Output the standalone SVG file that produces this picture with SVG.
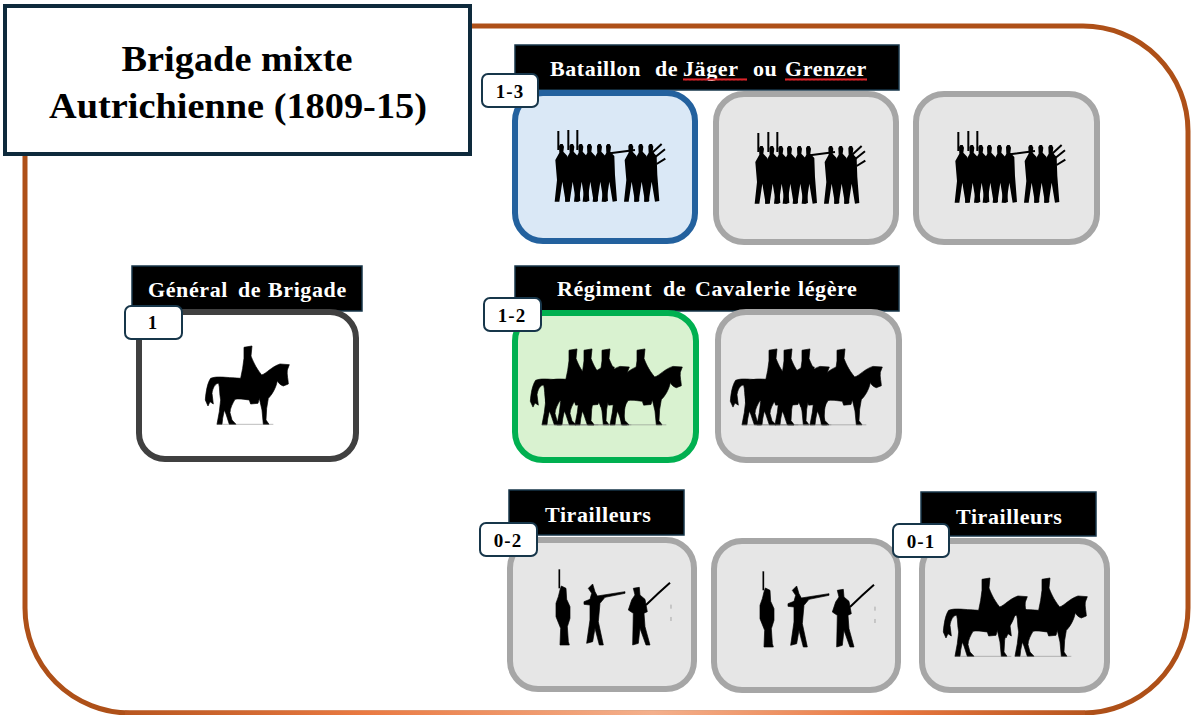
<svg xmlns="http://www.w3.org/2000/svg" width="1192" height="715" viewBox="0 0 1192 715">
<style>
.card{stroke-width:6}
.gray{fill:#e6e6e6;stroke:#a6a6a6}
.blue{fill:#dae8f6;stroke:#23619e}
.green{fill:#d9f2d0;stroke:#00b050}
.white{fill:#fff;stroke:#404040}
.hdr{fill:#000;stroke:#17364a;stroke-width:1.5}
.badge{fill:#fff;stroke:#17364a;stroke-width:2}
.sil{fill:#000;stroke:#000;stroke-width:2;stroke-linejoin:round}
text{font-family:"Liberation Serif","DejaVu Serif",serif;font-weight:bold}
.h{fill:#fff;font-size:22px;letter-spacing:.6px}
.b{fill:#000;font-size:19px;text-anchor:middle;letter-spacing:1px}
.t{fill:#000;font-size:36px;text-anchor:middle}
</style>
<defs>
<linearGradient id="bottomEdge" gradientUnits="userSpaceOnUse" x1="125" y1="0" x2="1085" y2="0">
<stop offset="0" stop-color="#b8561f"/><stop offset=".25" stop-color="#ea7a42"/><stop offset=".55" stop-color="#f4b08c"/><stop offset=".8" stop-color="#e9773f"/><stop offset="1" stop-color="#b8561f"/>
</linearGradient>
<pattern id="squiggle" patternUnits="userSpaceOnUse" width="4" height="3">
<path d="M0 2.4 L1 .6 L2 2.4 L3 .6 L4 2.4" fill="none" stroke="#e0242a" stroke-width="1.1"/>
</pattern>
<g id="horse">
<path class="sil" d="M372 262 L396 258 L393 288 C398 300 405 320 425 345 C440 340 455 320 480 312 L508 314 L502 330 C500 345 505 360 505 372 L490 378 C480 375 475 368 472 362 C468 385 455 405 445 415 L440 445 L438 480 L447 493 L430 493 L426 450 L418 415 L414 430 L392 432 L388 420 C370 418 355 415 345 418 C338 430 330 445 330 458 L336 480 L348 493 L328 493 L318 462 L313 450 L308 475 L306 493 L291 493 L298 455 L302 420 C298 400 300 385 296 370 C285 370 278 385 276 400 L280 432 L270 425 L264 438 L256 420 C258 395 262 370 272 355 C290 348 310 352 362 355 L368 325 L372 295 Z"/>
<path d="M290 493 H460" stroke="#777" stroke-width="1.5" fill="none"/>
</g>
<path id="sol" d="M-7 78 L-3 72 L4 72 L8 80 L6 95 L18 108 L20 165 L26 243 L13 245 L3 185 L-6 245 L-20 245 L-13 180 L-18 120 L-6 98 Z" fill="#000"/>
<g id="inf">
<use href="#sol" x="64"/><use href="#sol" x="95"/><use href="#sol" x="122"/><use href="#sol" x="148"/><use href="#sol" x="178"/><use href="#sol" x="205"/><use href="#sol" x="272"/><use href="#sol" x="302"/><use href="#sol" x="332"/>
<path d="M55 33V90M85 30V90M112 30V90M210 100L285 90M335 100L365 72M345 112L375 88M350 132L376 116" stroke="#000" stroke-width="6" fill="none"/>
</g>
<g id="foot">
<path d="M58 28V85" stroke="#000" stroke-width="5"/>
<path class="sil" d="M60 90 L64 78 L78 85 L80 118 L90 140 L90 175 L82 200 L85 245 L88 255 L60 255 L62 205 L48 170 L48 130 L55 110 Z"/>
<path class="sil" d="M145 85 L158 72 L165 95 L172 108 L255 95 L255 100 L195 112 L180 130 L175 185 L190 255 L178 255 L165 205 L158 245 L140 250 L150 180 L150 135 L132 133 L132 125 L150 118 L155 100 Z"/>
<path class="sil" d="M280 85 L298 82 L300 105 L315 118 L322 155 L312 160 L315 200 L330 255 L318 255 L300 205 L295 250 L278 255 L280 160 L265 150 L275 120 L285 105 Z"/>
<path d="M318 135 L355 100 L390 68" stroke="#000" stroke-width="6" fill="none"/>
<path d="M393 134V146M393 171V183" stroke="#999" stroke-width="2.5"/>
</g>
<g id="cavalry">
<use href="#horse" transform="translate(-204 0)"/><use href="#horse" transform="translate(-159 0)"/><use href="#horse" transform="translate(-105 0)"/><use href="#horse"/>
</g>
</defs>

<g id="frame">
<rect x="25" y="26" width="1163" height="687" rx="105" ry="105" fill="#fff" stroke="#ae5018" stroke-width="5"/>
<path d="M125 713 H1085" stroke="url(#bottomEdge)" stroke-width="5" fill="none"/>
</g>

<g id="title">
<rect x="5" y="6" width="465" height="148" fill="#fff" stroke="#0e2a3c" stroke-width="4"/>
<text class="t" x="237" y="71" textLength="231" lengthAdjust="spacingAndGlyphs">Brigade mixte</text>
<text class="t" x="238" y="118" textLength="378" lengthAdjust="spacingAndGlyphs">Autrichienne (1809-15)</text>
</g>

<g id="general">
<rect class="hdr" x="132" y="266" width="230" height="45"/>
<text class="h"><tspan x="148" y="297">Général</tspan><tspan x="238" y="297">de</tspan><tspan x="268" y="297">Brigade</tspan></text>
<rect class="card white" x="139" y="312" width="217" height="147" rx="26"/>
<use href="#horse" transform="translate(120 260) scale(.3333)"/>
<rect class="badge" x="125" y="306" width="57" height="33" rx="6"/>
<text class="b" x="153" y="329">1</text>
</g>

<g id="jager">
<rect class="hdr" x="515" y="45" width="384" height="45"/>
<text class="h"><tspan x="550" y="76">Bataillon</tspan><tspan x="655" y="76">de</tspan><tspan x="683" y="76">Jäger</tspan><tspan x="753" y="76">ou</tspan><tspan x="785" y="76">Grenzer</tspan></text>
<rect x="683" y="78" width="64" height="3" fill="url(#squiggle)"/>
<rect x="785" y="78" width="82" height="3" fill="url(#squiggle)"/>
<rect class="card blue" x="515" y="93" width="180" height="148" rx="28"/>
<use href="#inf" transform="translate(540 120) scale(.3333)"/>
<rect class="card gray" x="716" y="94" width="180" height="148" rx="28"/>
<use href="#inf" transform="translate(740 122) scale(.3333)"/>
<rect class="card gray" x="916" y="94" width="181" height="148" rx="28"/>
<use href="#inf" transform="translate(940 121) scale(.3333)"/>
<rect class="badge" x="482" y="74" width="56" height="33" rx="6"/>
<text class="b" x="510" y="98">1-3</text>
</g>

<g id="cavalerie">
<rect class="hdr" x="515" y="266" width="384" height="45"/>
<text class="h"><tspan x="557" y="296">Régiment</tspan><tspan x="663" y="296">de</tspan><tspan x="695" y="296">Cavalerie</tspan><tspan x="798" y="296">légère</tspan></text>
<rect class="card green" x="515" y="313" width="181" height="147" rx="28"/>
<use href="#cavalry" transform="translate(513 265.6) scale(.3333 .323)"/>
<rect class="card gray" x="718" y="312" width="181" height="148" rx="28"/>
<use href="#cavalry" transform="translate(713 265.6) scale(.3333 .323)"/>
<rect class="badge" x="484" y="298" width="57" height="33" rx="6"/>
<text class="b" x="512" y="322">1-2</text>
</g>

<g id="tirailleurs-1">
<rect class="hdr" x="509" y="490" width="175" height="45"/>
<text class="h" x="545" y="522">Tirailleurs</text>
<rect class="card gray" x="510" y="540" width="184" height="149" rx="28"/>
<use href="#foot" transform="translate(540 560) scale(.3333)"/>
<rect class="card gray" x="714" y="541" width="184" height="149" rx="28"/>
<use href="#foot" transform="translate(744 562) scale(.3333)"/>
<rect class="badge" x="480" y="523" width="57" height="33" rx="6"/>
<text class="b" x="508" y="547">0-2</text>
</g>

<g id="tirailleurs-2">
<rect class="hdr" x="921" y="492" width="175" height="44"/>
<text class="h" x="956" y="524">Tirailleurs</text>
<rect class="card gray" x="922" y="541" width="185" height="149" rx="28"/>
<use href="#horse" transform="translate(858 492) scale(.3333)"/>
<use href="#horse" transform="translate(918 492) scale(.3333)"/>
<rect class="badge" x="893" y="524" width="56" height="33" rx="6"/>
<text class="b" x="921" y="548">0-1</text>
</g>
</svg>
